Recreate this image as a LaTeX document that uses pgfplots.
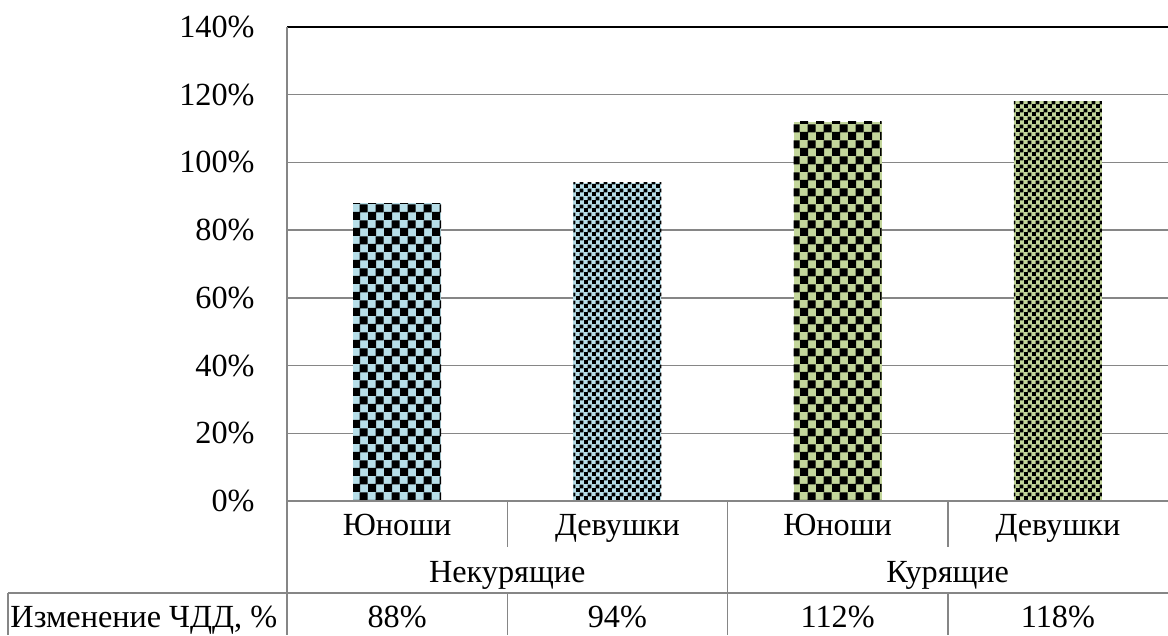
\documentclass[border=0pt]{standalone}
\usepackage{pgfplots}
\pgfplotsset{compat=1.18}
\usepackage{fontspec}
\setmainfont{Liberation Serif}
\usetikzlibrary{patterns}

\definecolor{cblue}{HTML}{B7DEE8}
\definecolor{cgreen}{HTML}{C3D69B}
\definecolor{gridgray}{HTML}{868686}

% checkerboards: big squares 3.2pt, small 1.6pt (a bit of overlap so corners meet)
\pgfdeclarepatternformonly{bigcheck}{\pgfpointorigin}{\pgfqpoint{6.4pt}{6.4pt}}{\pgfqpoint{6.4pt}{6.4pt}}{
  \pgfpathrectangle{\pgfpointorigin}{\pgfqpoint{3.4pt}{3.4pt}}
  \pgfpathrectangle{\pgfqpoint{3.2pt}{3.2pt}}{\pgfqpoint{3.4pt}{3.4pt}}
  \pgfusepath{fill}}
\pgfdeclarepatternformonly{smallcheck}{\pgfpointorigin}{\pgfqpoint{3.2pt}{3.2pt}}{\pgfqpoint{3.2pt}{3.2pt}}{
  \pgfpathrectangle{\pgfpointorigin}{\pgfqpoint{1.7pt}{1.7pt}}
  \pgfpathrectangle{\pgfqpoint{1.6pt}{1.6pt}}{\pgfqpoint{1.7pt}{1.7pt}}
  \pgfusepath{fill}}

\newcommand\lblfont{\fontsize{12.9}{15}\selectfont}

\begin{document}
\begin{tikzpicture}
\begin{axis}[
  at={(0,0)}, anchor=south west,
  scale only axis,
  width=352.4pt, height=189.6pt,
  xmin=-0.5, xmax=3.5,
  ymin=0, ymax=140,
  ytick={0,20,...,140},
  yticklabel={\pgfmathprintnumber{\tick}\%},
  /pgf/number format/assume math mode=true,
  yticklabel style={inner sep=0pt, xshift=-12.8pt, font=\lblfont},
  xtick=\empty,
  major tick length=0pt,
  ymajorgrids=true,
  grid style={gridgray, line width=0.6pt},
  axis line style={draw=none},
  clip=false,
]
\addplot[ybar, bar width=35.2pt, bar shift=0pt, fill=cblue, draw=none,
  postaction={pattern=bigcheck, pattern color=black}] coordinates {(0,88)};
\addplot[ybar, bar width=35.2pt, bar shift=0pt, fill=cblue, draw=none,
  postaction={pattern=smallcheck, pattern color=black}] coordinates {(1,94)};
\addplot[ybar, bar width=35.2pt, bar shift=0pt, fill=cgreen, draw=none,
  postaction={pattern=bigcheck, pattern color=black}] coordinates {(2,112)};
\addplot[ybar, bar width=35.2pt, bar shift=0pt, fill=cgreen, draw=none,
  postaction={pattern=smallcheck, pattern color=black}] coordinates {(3,118)};

% frame: top black, left and bottom gray
\draw[black, line width=0.6pt] (axis cs:-0.5,140) -- (axis cs:3.5,140);
\draw[gridgray, line width=0.6pt] (axis cs:-0.5,0) -- (axis cs:3.5,0);
\draw[gridgray, line width=0.6pt] (axis cs:-0.5,140) -- ([yshift=-53.6pt]axis cs:-0.5,0);

% category table
\draw[gridgray, line width=0.6pt] (axis cs:0.5,0) -- ([yshift=-18.4pt]axis cs:0.5,0);
\draw[gridgray, line width=0.6pt] (axis cs:2.5,0) -- ([yshift=-18.4pt]axis cs:2.5,0);
\draw[gridgray, line width=0.6pt] (axis cs:1.5,0) -- ([yshift=-53.6pt]axis cs:1.5,0);
\draw[gridgray, line width=0.6pt] ([xshift=-111.6pt,yshift=-36.8pt]axis cs:-0.5,0) -- ([yshift=-36.8pt]axis cs:3.5,0);
\draw[gridgray, line width=0.6pt] ([xshift=-111.6pt,yshift=-36.8pt]axis cs:-0.5,0) -- ([xshift=-111.6pt,yshift=-53.6pt]axis cs:-0.5,0);
\draw[gridgray, line width=0.6pt] ([yshift=-36.8pt]axis cs:0.5,0) -- ([yshift=-53.6pt]axis cs:0.5,0);
\draw[gridgray, line width=0.6pt] ([yshift=-36.8pt]axis cs:2.5,0) -- ([yshift=-53.6pt]axis cs:2.5,0);

\begin{scope}[every node/.style={font=\lblfont, inner sep=0pt, anchor=base}]
\node at ([yshift=-13.6pt]axis cs:0,0) {Юноши};
\node at ([yshift=-13.6pt]axis cs:1,0) {Девушки};
\node at ([yshift=-13.6pt]axis cs:2,0) {Юноши};
\node at ([yshift=-13.6pt]axis cs:3,0) {Девушки};
\node at ([yshift=-32.4pt]axis cs:0.5,0) {Некурящие};
\node at ([yshift=-32.4pt]axis cs:2.5,0) {Курящие};
\node[anchor=base west] at ([xshift=-110.8pt,yshift=-50.4pt]axis cs:-0.5,0) {Изменение ЧДД, \%};
\node at ([yshift=-50.4pt]axis cs:0,0) {88\%};
\node at ([yshift=-50.4pt]axis cs:1,0) {94\%};
\node at ([yshift=-50.4pt]axis cs:2,0) {112\%};
\node at ([yshift=-50.4pt]axis cs:3,0) {118\%};
\end{scope}
\end{axis}
\pgfresetboundingbox
\useasboundingbox (-114.8pt,-53.6pt) rectangle (352.4pt,200.4pt);
\end{tikzpicture}
\end{document}
